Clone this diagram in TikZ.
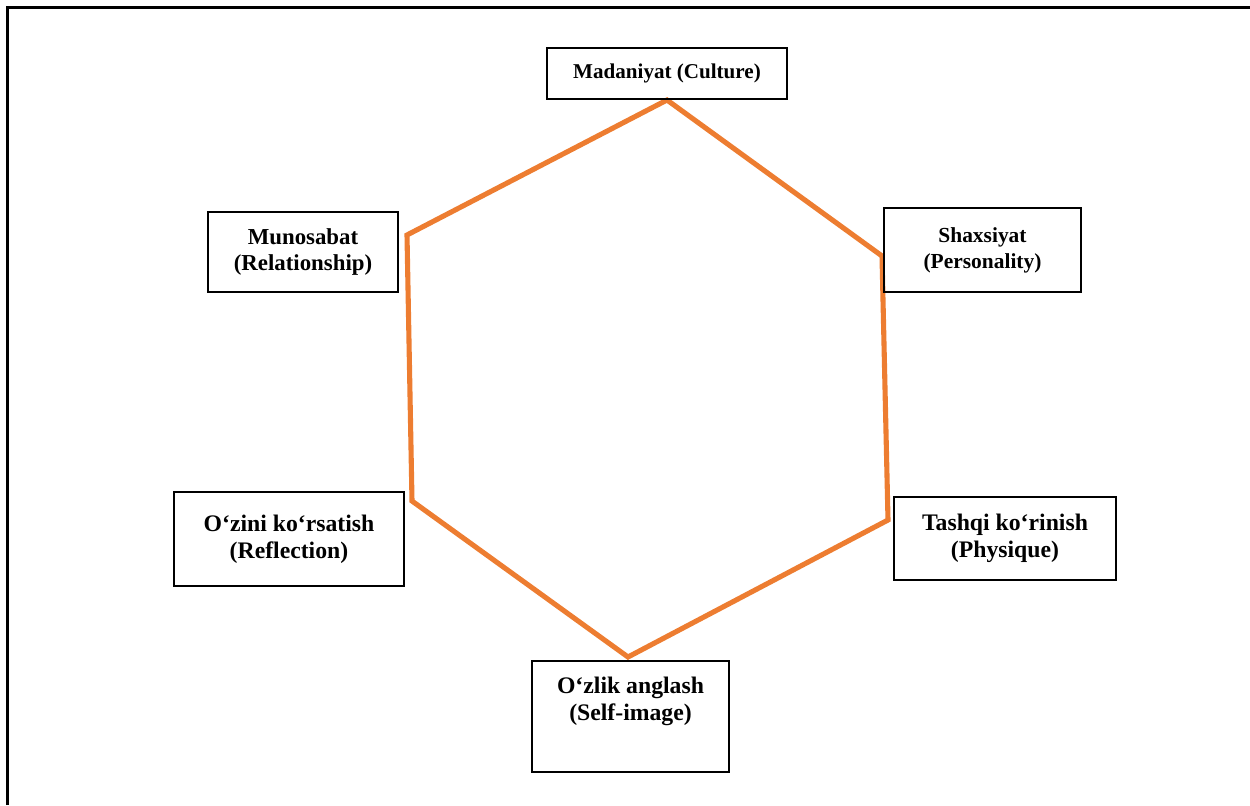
\documentclass[tikz,border=0pt]{standalone}
\usepackage{fontspec}
\setmainfont{Liberation Serif}
\definecolor{hexorange}{HTML}{ED7D31}
\tikzset{
  box/.style={draw, line width=0.8pt, align=center, font=\bfseries, inner sep=2pt},
  hexline/.style={draw=hexorange, line width=2.9pt, line join=miter},
  pageframe/.style={draw=black, line width=1.7pt}
}
\begin{document}
\begin{tikzpicture}[x=0.02cm, y=-0.02cm]
    \useasboundingbox (0, 0) rectangle (1250, 805);
    % Draw page frame
    \coordinate (fbl) at (7.5, 805);
    \coordinate (ftl) at (7.5, 7.5);
    \coordinate (ftr) at (1250, 7.5);
    \draw [pageframe] (fbl) -- (ftl) -- (ftr);
    % Hexagon corners
    \coordinate (htop) at (667, 100);
    \coordinate (hur) at (882, 256);
    \coordinate (hlr) at (888, 520);
    \coordinate (hbot) at (628, 657);
    \coordinate (hll) at (412, 501);
    \coordinate (hul) at (407, 235);
    \draw [hexline] (htop) -- (hur) -- (hlr) -- (hbot) -- (hll) -- (hul) -- cycle;
    % Labels
    \node [box, minimum width=4.8cm, minimum height=1.02cm, font=\bfseries\fontsize{12}{14.5}\selectfont] (culture) at (667, 73.5) {Madaniyat (Culture)};
    \node [box, minimum width=3.8cm, minimum height=1.6cm, font=\bfseries\fontsize{13}{14.8}\selectfont] (relation) at (303, 252) {Munosabat\\(Relationship)};
    \node [box, minimum width=3.94cm, minimum height=1.68cm, font=\bfseries\fontsize{12.2}{14.8}\selectfont] (person) at (982.5, 250) {Shaxsiyat\\(Personality)};
    \node [box, minimum width=4.6cm, minimum height=1.88cm, font=\bfseries\fontsize{13.5}{15.6}\selectfont] (reflect) at (289, 539) {O‘zini ko‘rsatish\\(Reflection)};
    \node [box, minimum width=4.44cm, minimum height=1.66cm, font=\bfseries\fontsize{13.5}{15.6}\selectfont] (physique) at (1005, 538.5) {Tashqi ko‘rinish\\(Physique)};
    \node [box, minimum width=3.94cm, minimum height=2.22cm, font=\bfseries\fontsize{13.5}{15.6}\selectfont] (selfimg) at (630.5, 716.5) {O‘zlik anglash\\(Self-image)\\\strut};
\end{tikzpicture}
\end{document}
